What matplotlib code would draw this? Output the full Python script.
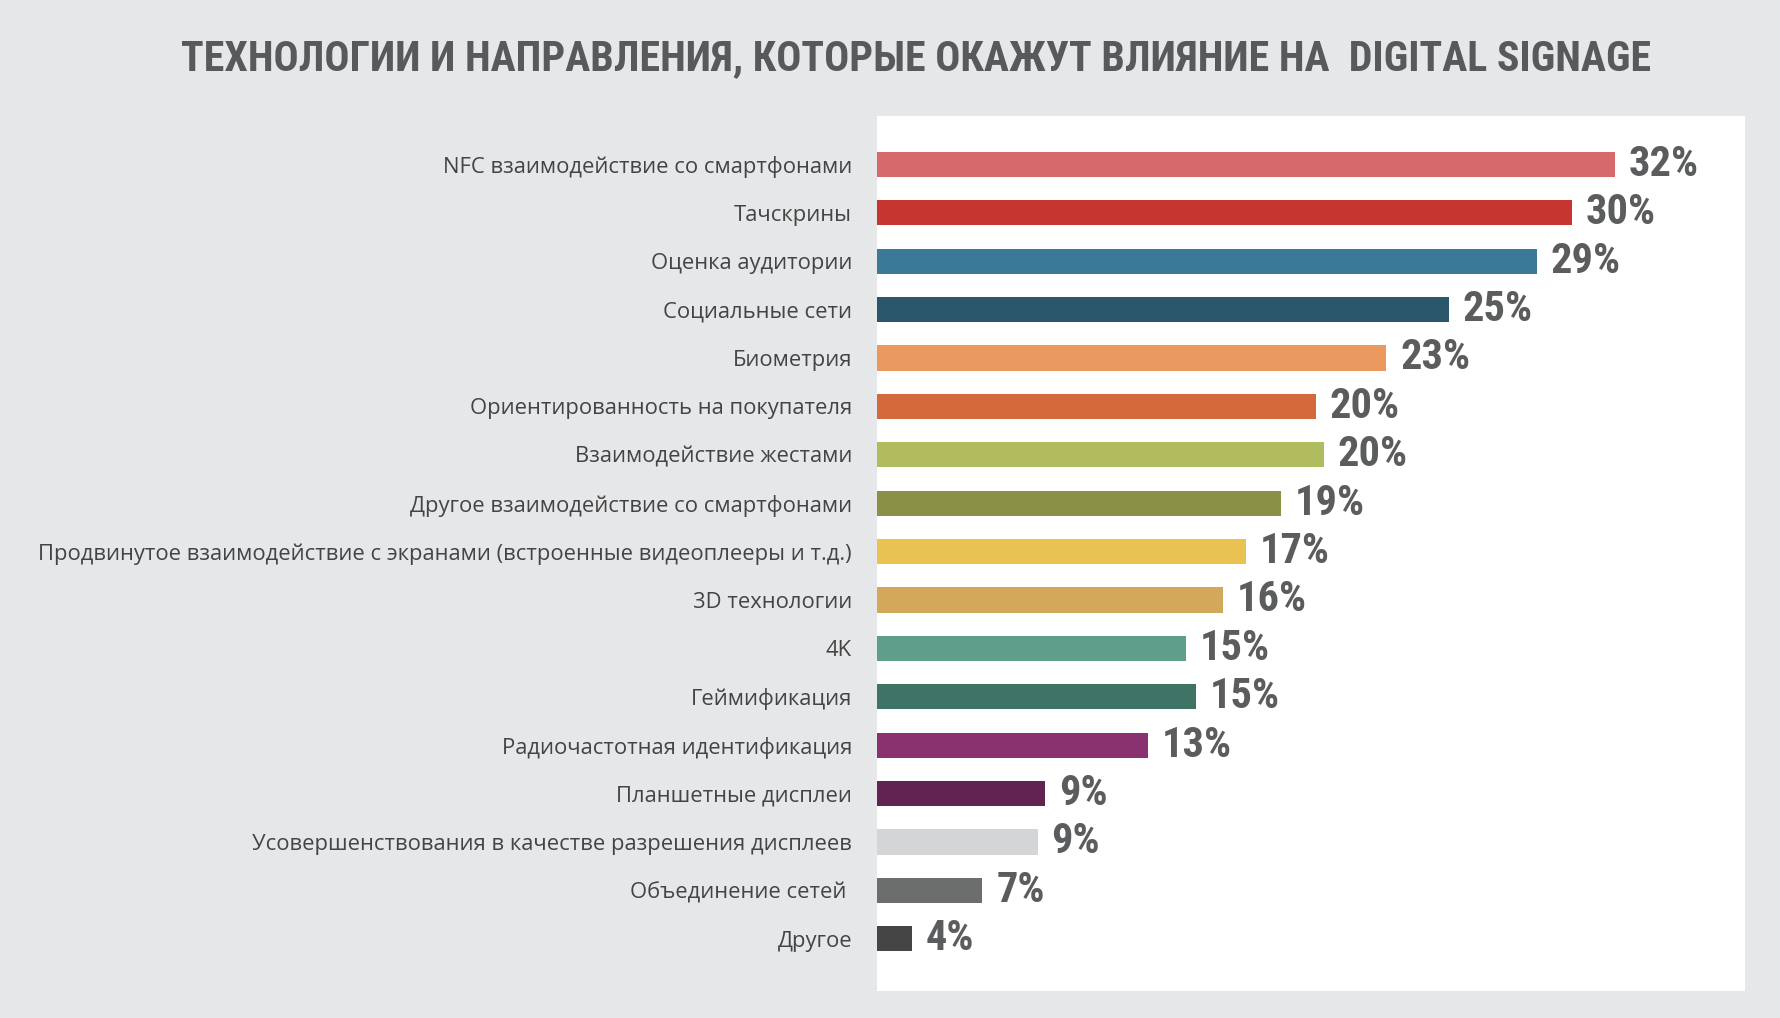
#!/usr/bin/env python3
"""Horizontal bar chart: technologies that will influence digital signage."""

import matplotlib
matplotlib.use("Agg")
import matplotlib.pyplot as plt
from matplotlib import font_manager


TITLE = "ТЕХНОЛОГИИ И НАПРАВЛЕНИЯ, КОТОРЫЕ ОКАЖУТ ВЛИЯНИЕ НА  DIGITAL SIGNAGE"

categories = [
    "NFC взаимодействие со смартфонами",
    "Тачскрины",
    "Оценка аудитории",
    "Социальные сети",
    "Биометрия",
    "Ориентированность на покупателя",
    "Взаимодействие жестами",
    "Другое взаимодействие со смартфонами",
    "Продвинутое взаимодействие с экранами (встроенные видеоплееры и т.д.)",
    "3D технологии",
    "4K",
    "Геймификация",
    "Радиочастотная идентификация",
    "Планшетные дисплеи",
    "Усовершенствования в качестве разрешения дисплеев",
    "Объединение сетей ",
    "Другое",
]

# share of respondents, %
values = [32.0, 30.3, 28.9, 25.4, 22.9, 20.1, 20.4, 18.7, 17.3, 16.4,
          14.9, 15.3, 13.4, 9.3, 9.0, 6.8, 4.0]

colors = [
    "#d66a6a", "#c73530", "#3a7a98", "#2a566a", "#ea9a5e", "#d4693c",
    "#b0bc5e", "#8a9045", "#e8c352", "#d4a85a", "#5e9e8a", "#3f7366",
    "#8a3270", "#612352", "#d4d5d7", "#6b6e6c", "#454545",
]


def pick(*names):
    installed = {f.name for f in font_manager.fontManager.ttflist}
    for n in names:
        if n in installed:
            return n
    return "DejaVu Sans"


narrow = pick("Liberation Sans Narrow", "Roboto Condensed", "Liberation Sans")
regular = pick("Open Sans", "Noto Sans", "DejaVu Sans")

fig = plt.figure(figsize=(17.8, 10.18), dpi=100)
fig.patch.set_facecolor("#e6e7e9")

ax = fig.add_axes([877 / 1780, 1 - 991 / 1018, 868 / 1780, 875 / 1018])
ax.set_facecolor("white")

y = list(range(len(categories)))
ax.barh(y, values, height=0.52, color=colors, left=0)

for yi, v in zip(y, values):
    ax.annotate(
        f"{v:.0f}%",
        (v, yi),
        xytext=(10, 0),
        textcoords="offset points",
        va="center",
        ha="left",
        fontsize=30.5,
        fontweight="bold",
        family=narrow,
        color="#5b5c5e",
    )

ax.set_xlim(2.6, 37.2)
ax.set_ylim(len(categories) - 1 + 1.08, -1.0)
ax.set_yticks(y)
ax.set_yticklabels(categories, family=regular, fontsize=15.8, color="#444444")
ax.tick_params(axis="y", length=0, pad=18)
ax.set_xticks([])
for s in ax.spines.values():
    s.set_visible(False)

fig.text(
    916 / 1780,
    1 - 59 / 1018,
    TITLE,
    ha="center",
    va="center",
    fontsize=30.2,
    fontweight="bold",
    family=narrow,
    color="#58595b",
)

fig.savefig("out.png", dpi=100, facecolor=fig.get_facecolor())
